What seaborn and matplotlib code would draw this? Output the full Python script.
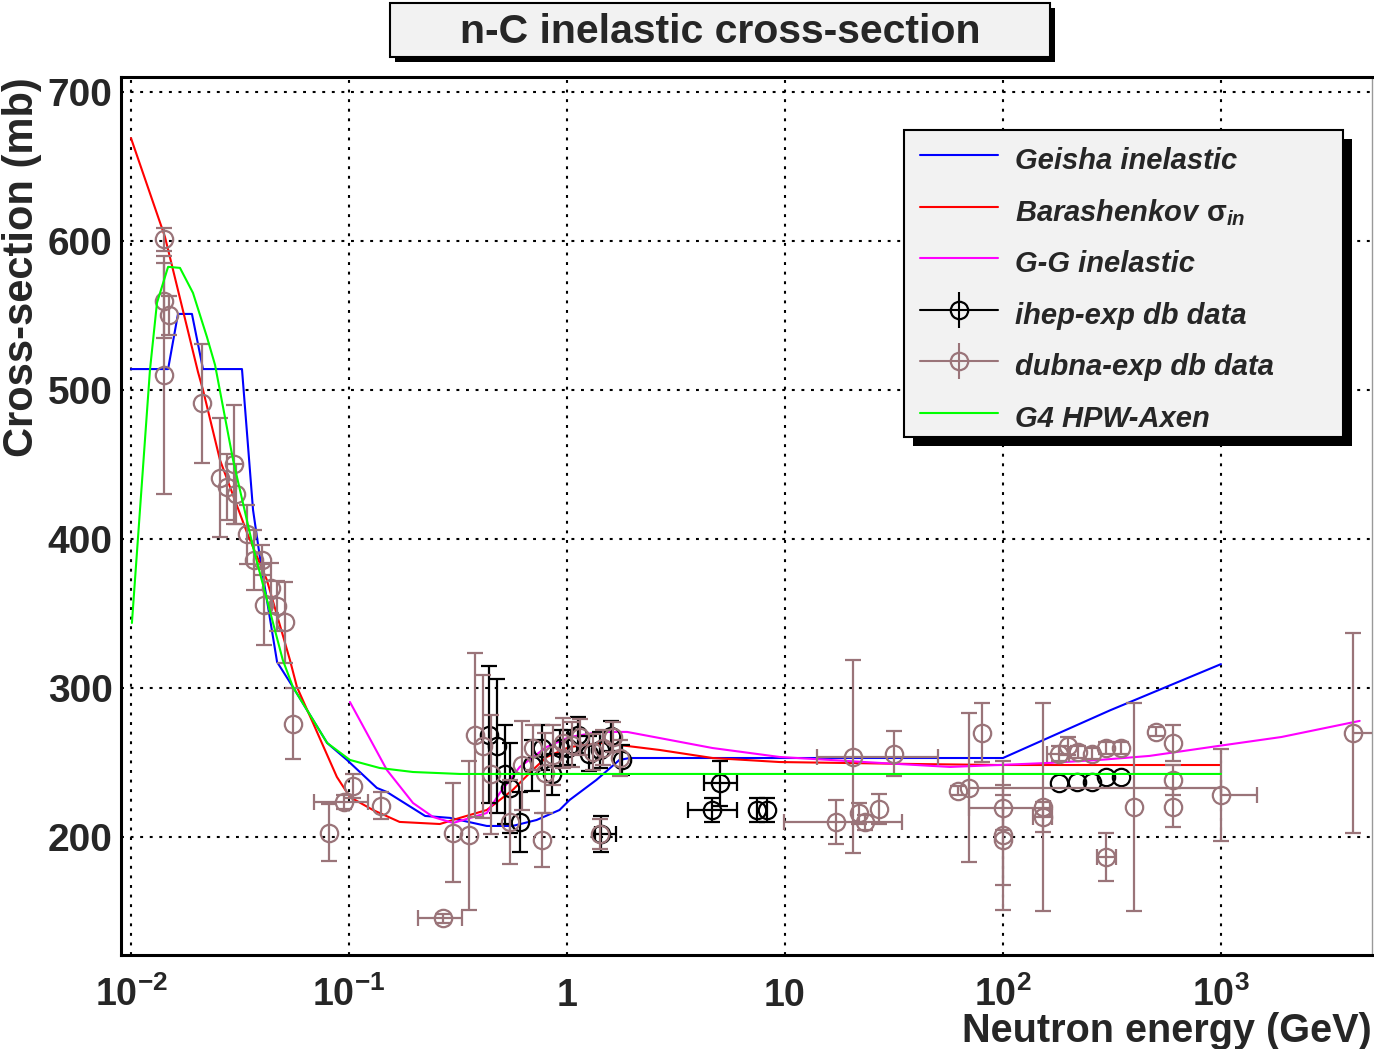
import numpy as np
import pandas as pd
import matplotlib
matplotlib.use("Agg")
import matplotlib.pyplot as plt
import seaborn as sns
from matplotlib.lines import Line2D
from matplotlib.patches import Rectangle
from matplotlib.ticker import LogLocator, MultipleLocator, NullFormatter
from matplotlib.font_manager import FontProperties

# ---------------- data ----------------
geisha_E = [0.01, 0.0148, 0.01643, 0.01904, 0.0214, 0.0323, 0.0363, 0.0390, 0.0468, 0.0553,
            0.0794, 0.0979, 0.1343, 0.1492, 0.2236, 0.2914, 0.4287, 0.5633, 0.7255, 0.924,
            1.0276, 1.365, 1.74, 1.94, 100, 310, 1000]
geisha_sigma = [514, 514, 551, 551, 514, 514, 419.5, 388, 317.4, 300.7,
                263.1, 251.7, 232.9, 230.2, 214.1, 212.8, 207.4, 207.4, 211.4, 218.1,
                224.8, 238.3, 251.7, 253, 253, 285, 316]

barash_E = [0.01, 0.01432, 0.0203, 0.0214, 0.0256, 0.0341, 0.042, 0.0536, 0.0577, 0.0684,
            0.088, 0.101, 0.1289, 0.1707, 0.2611, 0.3224, 0.4287, 0.5633, 0.6967, 0.8072,
            1.0276, 1.455, 2.66, 4.65, 9.44, 38.1, 95.6, 1000]
barash_sigma = [669, 602.7, 512, 500, 453, 404, 372.5, 318.8, 300.7, 276.5,
                240.3, 226.8, 218.1, 210.1, 208.7, 212.8, 218.1, 231.5, 245, 253.7,
                260.4, 263.1, 258.4, 253, 250.3, 249, 248.3, 248.3]

gg_E = [0.101, 0.1207, 0.1492, 0.1967, 0.2433, 0.3004, 0.4287, 0.4918, 0.6073, 0.8072,
        1.0276, 1.414, 1.887, 2.66, 4.65, 9.44, 27.2, 57.2, 95.6, 162.5,
        277, 470, 974, 1895, 4330]
gg_sigma = [290.6, 269.8, 245, 222.8, 213.4, 209.4, 216.1, 229.5, 247, 260.4,
            267.1, 270.5, 270.5, 266.4, 259.7, 253.7, 249.7, 247, 248.3, 249.7,
            251.7, 254.4, 261.1, 267.1, 277.9]

axen_E = [0.0101, 0.01222, 0.01316, 0.0148, 0.01678, 0.01925, 0.0223, 0.0243, 0.0294, 0.0363,
          0.0497, 0.0553, 0.0794, 0.101, 0.1383, 0.1967, 0.3224, 1000]
axen_sigma = [343.6, 513.4, 558.4, 582.6, 581.9, 565.1, 535.6, 516.8, 453, 394.6,
              318.8, 300.7, 263.1, 251.7, 246.3, 243.6, 242.3, 242.3]

# ihep-exp data: energy (GeV), sigma (mb), sigma error (mb)
ihep_E = [0.438, 0.476, 0.52, 0.55, 0.61, 0.69, 0.767, 0.85, 0.93, 1.01,
          1.12, 1.26, 1.42, 1.59, 1.79, 1.44, 5.04, 4.64, 7.46, 8.3,
          180, 218, 257, 298, 348]
ihep_sigma = [268.5, 261, 242, 233, 210, 248, 260, 242, 259.7, 260,
              268.5, 256, 258.4, 267.8, 251.7, 202, 236, 218, 218, 218,
              236, 237, 237, 240, 240]
ihep_dsigma = [46, 45, 33, 30, 20, 17, 15, 14, 12, 12,
               12, 12, 12, 10, 10, 12, 15, 8, 8, 8,
               0, 0, 0, 0, 0]
# horizontal error ranges (E low, E high) for some ihep points
ihep_xE = [1.44, 5.04, 4.64]
ihep_xsigma = [202, 236, 218]
ihep_Elow = [1.34, 4.24, 3.6]
ihep_Ehigh = [1.67, 6.0, 6.0]

# dubna-exp data
dubna_E = [0.0142, 0.0142, 0.0149, 0.0142, 0.0212, 0.0256, 0.0276, 0.0297, 0.0303, 0.034,
           0.0366, 0.0399, 0.0439, 0.0408, 0.0468, 0.0508, 0.0553, 0.081, 0.0946, 0.104,
           0.14, 0.30, 0.27, 0.355, 0.379, 0.412, 0.45, 0.55, 0.62, 0.70,
           0.77, 0.79, 0.86, 0.96, 1.06, 1.15, 1.32, 1.46, 1.62, 1.75,
           1.42, 20.5, 31.8, 17.1, 21.9, 23.4, 27.1, 62, 70, 80,
           100, 100, 100, 152, 152, 180, 198, 222, 257, 298,
           348, 298, 398, 506, 600, 600, 600, 1000, 4030]
dubna_sigma = [601, 560, 550, 510, 491, 441, 435, 450, 430, 403,
               386, 386, 367, 356, 355, 344, 276, 203, 223.5, 234,
               221, 203, 145.6, 201, 268.5, 261, 242, 210, 248, 260,
               198, 243, 255, 263, 262, 267, 257, 260, 267, 253,
               202, 254, 256, 210, 216, 210, 219, 231, 233, 270,
               219.6, 201, 198, 220, 213.5, 256, 261, 257, 256, 260,
               260, 186.6, 220, 270.5, 263, 238, 220, 228, 270]
dubna_dsigma = [8, 25, 13, 80, 40, 40, 22, 40, 20, 20,
                20, 10, 17, 27, 17, 27, 24, 19, 5, 8,
                9, 33, 3, 50, 55, 48, 40, 28, 30, 15,
                18, 27, 20, 17, 15, 12, 12, 12, 10, 12,
                10, 65, 15, 15, 7, 5, 10, 3, 50, 20,
                15, 50, 30, 70, 10, 5, 6, 4, 4, 4,
                4, 16, 70, 3, 12, 10, 13, 31, 67]
# horizontal error ranges for some dubna points
dubna_xE = [0.0946, 0.27, 20.5, 17.1, 70, 100, 152, 180, 298, 1000, 4030]
dubna_xsigma = [223.5, 145.6, 254, 210, 233, 219.6, 213.5, 256, 186.6, 228, 270]
dubna_Elow = [0.0691, 0.208, 14.1, 9.9, 70, 70, 138, 160, 270, 1000, 4030]
dubna_Ehigh = [0.1222, 0.33, 50.3, 34.3, 1000, 165, 168, 200, 330, 1460, 7000]

# ---------------- style ----------------
sns.set_style("white")
plt.rcParams["font.family"] = ["Liberation Sans", "DejaVu Sans"]
plt.rcParams["font.weight"] = "bold"
plt.rcParams["mathtext.fontset"] = "custom"
plt.rcParams["mathtext.rm"] = "Liberation Sans:bold"
plt.rcParams["mathtext.it"] = "Liberation Sans:italic:bold"
plt.rcParams["mathtext.bf"] = "Liberation Sans:bold"

W, H = 1374, 1049
fig = plt.figure(figsize=(W / 100, H / 100), dpi=100)
ax = fig.add_axes([121 / W, 1 - 955 / H, (1372 - 121) / W, (955 - 77) / H])
ax.set_xscale("log")

C_BLUE, C_RED, C_MAG, C_GREEN = "#0000ff", "#ff0000", "#ff00ff", "#00ff00"
C_DUBNA = "#9a7479"

curves = pd.concat([
    pd.DataFrame({"E": geisha_E, "sigma": geisha_sigma, "model": "Geisha inelastic"}),
    pd.DataFrame({"E": barash_E, "sigma": barash_sigma, "model": "Barashenkov"}),
    pd.DataFrame({"E": gg_E, "sigma": gg_sigma, "model": "G-G inelastic"}),
], ignore_index=True)
sns.lineplot(data=curves, x="E", y="sigma", hue="model",
             palette={"Geisha inelastic": C_BLUE, "Barashenkov": C_RED, "G-G inelastic": C_MAG},
             estimator=None, sort=False, linewidth=1.5, legend=False, ax=ax, zorder=2)

ms, mew, cap = 12.5, 1.6, 5.5
# ihep data
ie = np.array(ihep_E); isg = np.array(ihep_sigma); ids = np.array(ihep_dsigma)
mask = ids > 0
ax.errorbar(ie[mask], isg[mask], yerr=ids[mask], fmt="none", ecolor="black",
            elinewidth=1.6, capsize=cap, capthick=1.6, zorder=3)
ax.errorbar(ihep_xE, ihep_xsigma,
            xerr=[np.array(ihep_xE) - np.array(ihep_Elow), np.array(ihep_Ehigh) - np.array(ihep_xE)],
            fmt="none", ecolor="black", elinewidth=1.6, capsize=cap, capthick=1.6, zorder=3)
ax.plot(ie, isg, ls="none", marker="o", ms=ms, mfc="none", mec="black", mew=mew, zorder=3)

# dubna data
ax.errorbar(dubna_E, dubna_sigma, yerr=dubna_dsigma, fmt="none", ecolor=C_DUBNA,
            elinewidth=1.6, capsize=cap, capthick=1.6, zorder=3)
dxe = np.array(dubna_xE)
ax.errorbar(dubna_xE, dubna_xsigma,
            xerr=[dxe - np.array(dubna_Elow), np.array(dubna_Ehigh) - dxe],
            fmt="none", ecolor=C_DUBNA, elinewidth=1.6, capsize=cap, capthick=1.6, zorder=3)
ax.plot(dubna_E, dubna_sigma, ls="none", marker="o", ms=ms, mfc="none", mec=C_DUBNA, mew=mew, zorder=3)

sns.lineplot(x=axen_E, y=axen_sigma, color=C_GREEN, linewidth=1.5, estimator=None,
             sort=False, ax=ax, zorder=4)

# ---------------- axes ----------------
ax.set_xlim(0.009, 4930)
ax.set_ylim(120.8, 710)
ax.set_xlabel("")
ax.set_ylabel("")

xt = [0.01, 0.1, 1, 10, 100, 1000]
ax.set_xticks(xt, [r"$10^{-2}$", r"$10^{-1}$", "1", "10", r"$10^{2}$", r"$10^{3}$"])
ax.xaxis.set_minor_locator(LogLocator(base=10, subs=np.arange(2, 10)))
ax.xaxis.set_minor_formatter(NullFormatter())
ax.set_yticks([200, 300, 400, 500, 600, 700])
ax.yaxis.set_minor_locator(MultipleLocator(20))

ax.tick_params(axis="x", which="major", direction="in", length=19, width=1.5,
               labelsize=27, pad=37)
ax.tick_params(axis="x", which="minor", direction="in", length=9.5, width=1.5)
ax.tick_params(axis="y", which="major", direction="in", length=26, width=1.5,
               labelsize=28, pad=6)
ax.tick_params(axis="y", which="minor", direction="in", length=13, width=1.5)
for lbl in ax.get_xticklabels():
    lbl.set_va("baseline")
    lbl.set_fontweight("bold")
for lbl in ax.get_yticklabels():
    lbl.set_fontweight("bold")

ax.grid(True, which="major", color="black", linestyle=(0, (1.4, 3.2)), linewidth=1.5)
ax.set_axisbelow(True)
for s in ["left", "bottom", "top"]:
    ax.spines[s].set_linewidth(2.2)
    ax.spines[s].set_color("black")
ax.spines["right"].set_linewidth(1.0)
ax.spines["right"].set_color("#999999")

fig.text(22 / W, 1 - 267 / H, "Cross-section (mb)", rotation=90, ha="center", va="center",
         fontsize=30, fontweight="bold")
fig.text(1372 / W, 1 - 1031 / H, "Neutron energy (GeV)", ha="right", va="center",
         fontsize=28.5, fontweight="bold")

# ---------------- title box ----------------
def fig_rect(x0, y0, x1, y1, **kw):
    r = Rectangle((x0 / W, 1 - y1 / H), (x1 - x0) / W, (y1 - y0) / H,
                  transform=fig.transFigure, **kw)
    fig.patches.append(r)
    return r

fig_rect(395, 8, 1055, 62, facecolor="black", edgecolor="none", zorder=1)
fig_rect(390, 3, 1050, 57, facecolor="#f2f2f2", edgecolor="black", linewidth=1.5, zorder=2)
fig.text(720 / W, 1 - 32 / H, "n-C inelastic cross-section", ha="center", va="center",
         fontsize=29.5, fontweight="bold", zorder=3)

# ---------------- legend ----------------
fig_rect(913, 139, 1352, 446, facecolor="black", edgecolor="none", zorder=3)
fig_rect(904, 130, 1343, 437, facecolor="#f2f2f2", edgecolor="black", linewidth=1.5, zorder=4)

def data_handle(c):
    return (Line2D([], [], color=c, lw=1.5),
            Line2D([], [], ls="none", marker="o", ms=ms, mfc="none", mec=c, mew=mew),
            Line2D([], [], ls="none", marker="|", ms=26, mew=1.5, color=c))

handles = [Line2D([], [], color=C_BLUE, lw=1.5),
           Line2D([], [], color=C_RED, lw=1.5),
           Line2D([], [], color=C_MAG, lw=1.5),
           data_handle("black"),
           data_handle(C_DUBNA),
           Line2D([], [], color=C_GREEN, lw=1.5)]
labels = ["Geisha inelastic", r"Barashenkov $\mathrm{\sigma}_{\mathit{in}}$", "G-G inelastic",
          "ihep-exp db data", "dubna-exp db data", "G4 HPW-Axen"]
leg_prop = FontProperties(family="Liberation Sans", weight="bold", style="italic", size=21)
leg = fig.legend(handles, labels, loc="upper left",
                 bbox_to_anchor=(920 / W, 1 - 141 / H), bbox_transform=fig.transFigure,
                 frameon=False, prop=leg_prop, handlelength=2.66, handletextpad=0.59,
                 handleheight=1.6, labelspacing=0.48, borderpad=0, borderaxespad=0)
leg.set_zorder(5)

fig.savefig("out.png", dpi=100)
